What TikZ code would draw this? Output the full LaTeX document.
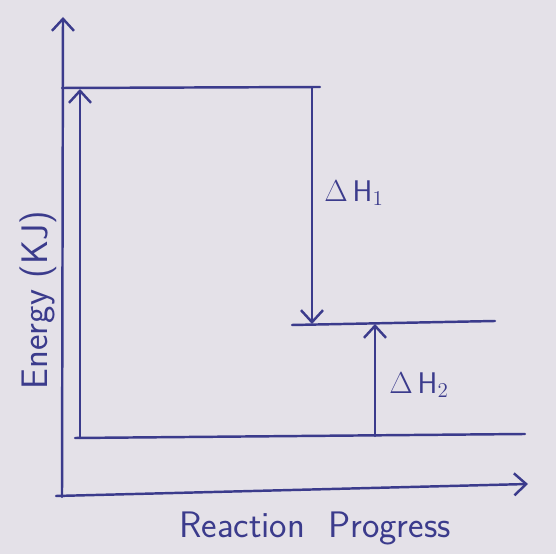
\documentclass[tikz,border=0pt]{standalone}
\usepackage{amssymb,amsmath}
\usepackage{tikz}
\usetikzlibrary{arrows.meta}
\definecolor{ink}{HTML}{3B3B8C}
\definecolor{paper}{HTML}{E4E1E8}

\begin{document}
\begin{tikzpicture}[x=0.2mm,y=-0.2mm,
    pen/.style={draw=ink,line width=1.4pt,line cap=round},
    tip/.style={-{Straight Barb[length=2.4mm,width=4.4mm,line width=1.4pt]}},
    lbl/.style={text=ink,font=\sffamily\fontsize{17}{20}\selectfont,inner sep=0pt},
    axlbl/.style={lbl,font=\sffamily\fontsize{21}{24}\selectfont}]

\fill[paper] (0,0) rectangle (556,554);
\useasboundingbox (0,0) rectangle (556,554);

% axes
\coordinate (o) at (62,497);
\coordinate (ytop) at (63,17);
\coordinate (xbeg) at (56,496);
\coordinate (xend) at (528,484);

% energy levels
\coordinate (top1) at (62,88);
\coordinate (top2) at (320,87);
\coordinate (mid1) at (292,325);
\coordinate (mid2) at (495,321);
\coordinate (bot1) at (75,438);
\coordinate (bot2) at (525,434);

% arrow ends
\coordinate (up1) at (80,438);
\coordinate (up2) at (80,89);
\coordinate (dh1a) at (312,88);
\coordinate (dh1b) at (312,324);
\coordinate (dh2a) at (375,436);
\coordinate (dh2b) at (375,324);

\draw[pen,tip] (o) -- (ytop);
\draw[pen,tip] (xbeg) -- (xend);

\draw[pen] (top1) -- (top2);
\draw[pen] (mid1) -- (mid2);
\draw[pen] (bot1) -- (bot2);

\draw[pen,tip] (up1) -- (up2);
\draw[pen,tip] (dh1a) -- (dh1b);
\draw[pen,tip] (dh2a) -- (dh2b);

\node[lbl] (h1) at (354,193) {$\Delta$\,H$_1$};
\node[lbl] (h2) at (419,385) {$\Delta$\,H$_2$};
\node[axlbl,rotate=90] (ylab) at (38,300) {Energy (KJ)};
\node[axlbl] (xlab) at (315,528) {Reaction\ \ Progress};
\end{tikzpicture}
\end{document}
